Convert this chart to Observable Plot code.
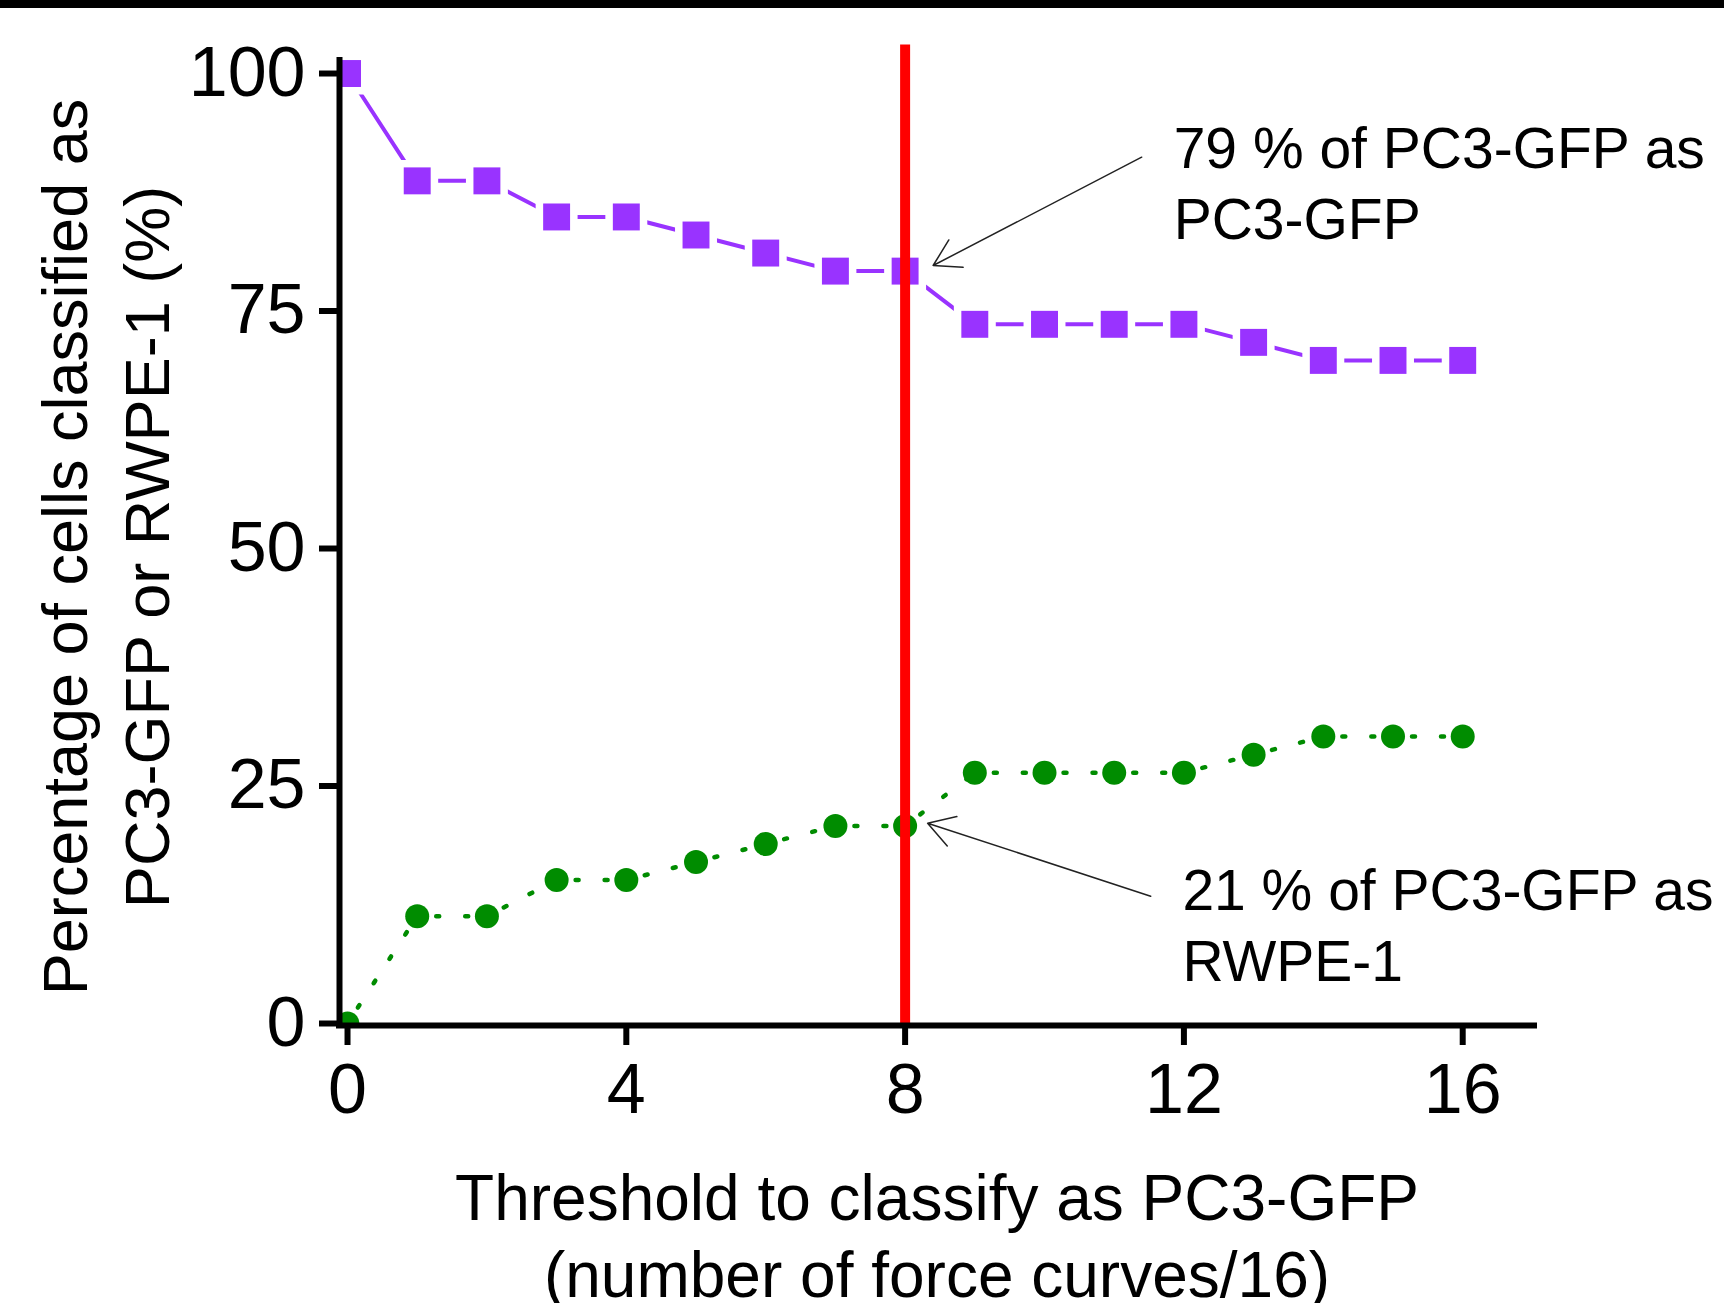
<!DOCTYPE html>
<html><head><meta charset="utf-8">
<script src="https://cdn.jsdelivr.net/npm/d3@7"></script>
<script src="https://cdn.jsdelivr.net/npm/@observablehq/plot@0.6"></script>
<style>
html,body{margin:0;padding:0;background:#fff;}
#wrap{position:relative;width:1724px;height:1303px;overflow:hidden;background:#fff;}
#band{position:absolute;left:0;top:0;width:1724px;height:8px;background:#000;}
svg{display:block;}
</style></head><body>
<div id="wrap"><div id="chart"></div><div id="band"></div></div>
<script>
// Threshold (number of force curves out of 16)
const thresholds = [0, 1, 2, 3, 4, 5, 6, 7, 8, 9, 10, 11, 12, 13, 14, 15, 16];
// % of PC3-GFP classified as PC3-GFP
const pc3AsPc3 = [100, 88.7, 88.7, 84.9, 84.9, 83.0, 81.1, 79.2, 79.2, 73.6, 73.6, 73.6, 73.6, 71.7, 69.8, 69.8, 69.8];
// % of PC3-GFP classified as RWPE-1
const pc3AsRwpe = [0, 11.3, 11.3, 15.1, 15.1, 17.0, 18.9, 20.8, 20.8, 26.4, 26.4, 26.4, 26.4, 28.3, 30.2, 30.2, 30.2];
const xTicks = [0, 4, 8, 12, 16];
const yTicks = [0, 25, 50, 75, 100];
const chosenThreshold = [8];
const xTitle = "Threshold to classify as PC3-GFP\n(number of force curves/16)";
const yTitle = "Percentage of cells classified as\nPC3-GFP or RWPE-1 (%)";
const noteTexts = ["79 % of PC3-GFP as\nPC3-GFP", "21 % of PC3-GFP as\nRWPE-1"];
const noteX = [11.853, 11.978];
const noteY = [95.3, 17.2];
const arrowX1 = [11.394, 11.523];
const arrowY1 = [91.19, 13.4];
const arrowX2 = [8.402, 8.323];
const arrowY2 = [79.79, 21.08];

const purple = "#9933FF", green = "#008C00", red = "#FF0000";
const xMin = -0.115, xMax = 17.03, yMin = -0.21, yMax = 101.37;

const pc3Data = thresholds.map((t, i) => ({t, v: pc3AsPc3[i]}));
const rwpeData = thresholds.map((t, i) => ({t, v: pc3AsRwpe[i]}));
const rwpeSegs = d3.pairs(rwpeData).map(([a, b]) => ({x1: a.t, y1: a.v, x2: b.t, y2: b.v}));
const notes = noteTexts.map((text, i) => ({text, x: noteX[i], y: noteY[i]}));
const arrows = arrowX1.map((x1, i) => ({x1, y1: arrowY1[i], x2: arrowX2[i], y2: arrowY2[i]}));

const font = "'Liberation Sans', Arial, sans-serif";
const chart = Plot.plot({
  width: 1724,
  height: 1303,
  marginLeft: 339,
  marginRight: 190,
  marginTop: 60,
  marginBottom: 278,
  style: {fontFamily: font, background: "transparent", color: "#000"},
  x: {domain: [xMin, xMax]},
  y: {domain: [yMin, yMax]},
  marks: [
    Plot.line(pc3Data, {x: "t", y: "v", stroke: purple, strokeWidth: 4, clip: true}),
    Plot.dot(pc3Data, {x: "t", y: "v", symbol: "square", r: 15.2, fill: "#fff", stroke: "#fff", strokeWidth: 15, clip: true}),
    Plot.dot(pc3Data, {x: "t", y: "v", symbol: "square", r: 15.2, fill: purple, stroke: "none", clip: true}),
    Plot.link(rwpeSegs, {x1: "x1", y1: "y1", x2: "x2", y2: "y2", stroke: green, strokeWidth: 4.5,
      strokeDasharray: "3,26", strokeDashoffset: 10, strokeLinecap: "round", clip: true}),
    Plot.dot(rwpeData, {x: "t", y: "v", r: 12, fill: green, stroke: "none", clip: true}),
    Plot.ruleX(chosenThreshold, {y1: 0, y2: 103, stroke: red, strokeWidth: 10}),
    Plot.ruleX([xMin], {stroke: "#000", strokeWidth: 6, strokeLinecap: "square"}),
    Plot.ruleY([yMin], {stroke: "#000", strokeWidth: 6, strokeLinecap: "square"}),
    Plot.axisY({ticks: yTicks, tickSize: 20, tickPadding: 14, fontSize: 70, strokeWidth: 6, label: null}),
    Plot.axisX({ticks: xTicks, tickSize: 20, tickPadding: 18, fontSize: 70, strokeWidth: 6, label: null}),
    Plot.text([xTitle], {text: d => d, frameAnchor: "bottom", dy: 140, lineAnchor: "top", textAnchor: "middle",
      lineHeight: 1.2, fontSize: 64, fill: "#000"}),
    Plot.text([yTitle], {text: d => d, frameAnchor: "left", rotate: -90, dx: -238, dy: 4, lineAnchor: "middle",
      textAnchor: "middle", lineHeight: 1.3, fontSize: 63, fill: "#000"}),
    Plot.arrow(arrows, {x1: "x1", y1: "y1", x2: "x2", y2: "y2", stroke: "#222", strokeWidth: 1.5,
      headLength: 30, headAngle: 62}),
    Plot.text(notes, {x: "x", y: "y", text: "text", textAnchor: "start", lineAnchor: "top",
      lineHeight: 1.24, fontSize: 57, fill: "#000"})
  ]
});
document.getElementById("chart").appendChild(chart);
</script>
</body></html>
